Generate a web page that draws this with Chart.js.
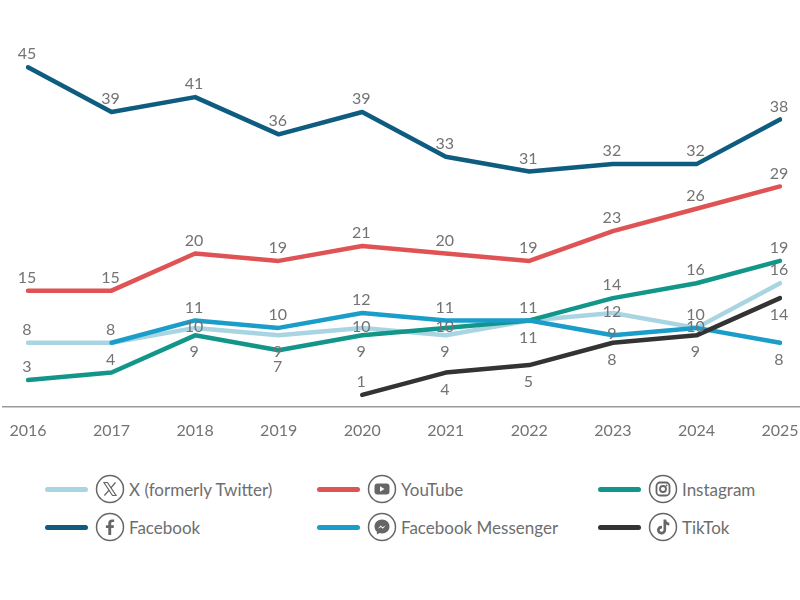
<!DOCTYPE html>
<html lang="en">
<head>
<meta charset="utf-8">
<title>Social media use 2016-2025</title>
<script src="https://cdn.jsdelivr.net/npm/chart.js@4.4.1/dist/chart.umd.min.js"></script>
<style>
  html, body { margin: 0; padding: 0; background: #fff; }
  #wrap { position: relative; width: 800px; height: 460px; }
  #legend { position: relative; width: 800px; height: 140px; font-family: Lato, "Open Sans", sans-serif; color: #6e6e6e; font-size: 17px; }
  .item { position: absolute; display: flex; align-items: center; height: 30px; }
  .swatch { width: 43px; height: 5px; border-radius: 3px; margin-right: 7px; }
  .icon { width: 30px; height: 30px; margin-right: 4px; }
</style>
</head>
<body>
<div id="wrap"><canvas id="chart-area" width="800" height="460"></canvas></div>
<div id="legend"></div>

<script>
var years = ['2016', '2017', '2018', '2019', '2020', '2021', '2022', '2023', '2024', '2025'];

var twitter   = [8, 8, 10, 9, 10, 9, 11, 12, 10, 16];
var facebook  = [45, 39, 41, 36, 39, 33, 31, 32, 32, 38];
var youtube   = [15, 15, 20, 19, 21, 20, 19, 23, 26, 29];
var instagram = [3, 4, 9, 7, 9, 10, 11, 14, 16, 19];
var messenger = [null, 8, 11, 10, 12, 11, 11, 9, 10, 8];
var tiktok    = [null, null, null, null, 1, 4, 5, 8, 9, 14];

// where each value label sits: a = above, b = below, c = on the line, n = none
var twitterPos   = ['a', 'n', 'c', 'b', 'c', 'b', 'n', 'c', 'a', 'a'];
var facebookPos  = ['a', 'a', 'a', 'a', 'a', 'a', 'a', 'a', 'a', 'a'];
var youtubePos   = ['a', 'a', 'a', 'a', 'a', 'a', 'a', 'a', 'a', 'a'];
var instagramPos = ['a', 'a', 'b', 'b', 'b', 'c', 'b', 'a', 'a', 'a'];
var messengerPos = ['n', 'a', 'a', 'a', 'a', 'a', 'a', 'c', 'c', 'b'];
var tiktokPos    = ['n', 'n', 'n', 'n', 'a', 'b', 'b', 'b', 'b', 'b'];

var icons = {
  x: '<svg class="icon" viewBox="0 0 30 30"><circle cx="15" cy="15" r="13.5" fill="none" stroke="#666" stroke-width="1.5"/><path d="M9 8.5h3.5l8.5 13h-3.5z" fill="none" stroke="#666" stroke-width="1.2"/><path d="M20.5 8.5l-4.8 5.6M14.3 15.9l-4.9 5.6" stroke="#666" stroke-width="1.3"/></svg>',
  youtube: '<svg class="icon" viewBox="0 0 30 30"><circle cx="15" cy="15" r="13.5" fill="none" stroke="#666" stroke-width="1.5"/><rect x="7.5" y="9.5" width="15" height="11" rx="3" fill="#666"/><path d="M13 12.3v5.4l4.5-2.7z" fill="#fff"/></svg>',
  instagram: '<svg class="icon" viewBox="0 0 30 30"><circle cx="15" cy="15" r="13.5" fill="none" stroke="#666" stroke-width="1.5"/><rect x="8.5" y="8.5" width="13" height="13" rx="3.5" fill="none" stroke="#666" stroke-width="1.8"/><circle cx="15" cy="15" r="3" fill="none" stroke="#666" stroke-width="1.8"/><circle cx="18.6" cy="11.4" r="0.9" fill="#666"/></svg>',
  facebook: '<svg class="icon" viewBox="0 0 30 30"><circle cx="15" cy="15" r="13.5" fill="none" stroke="#666" stroke-width="1.5"/><path d="M16.2 23v-7h2.4l0.4-2.8h-2.8v-1.7c0-0.8 0.3-1.4 1.4-1.4h1.5V7.6c-0.3 0-1.2-0.1-2.2-0.1-2.2 0-3.6 1.3-3.6 3.700v2h-2.4V16h2.4v7z" fill="#666"/></svg>',
  messenger: '<svg class="icon" viewBox="0 0 30 30"><circle cx="15" cy="15" r="13.5" fill="none" stroke="#666" stroke-width="1.5"/><path d="M15 7.5c-4.3 0-7.5 3.1-7.5 7 0 2.1 0.9 3.9 2.4 5.2v2.8l2.6-1.4c0.8 0.2 1.6 0.4 2.5 0.4 4.3 0 7.5-3.1 7.5-7s-3.2-7-7.5-7z" fill="#666"/><path d="M10.8 16.8l3-3.3 1.7 1.7 3.2-1.7-3 3.3-1.7-1.7z" fill="#fff"/></svg>',
  tiktok: '<svg class="icon" viewBox="0 0 30 30"><circle cx="15" cy="15" r="13.5" fill="none" stroke="#666" stroke-width="1.5"/><path d="M15.5 7.5h2.6c0.2 1.9 1.4 3.1 3.2 3.3v2.6c-1.2 0-2.3-0.4-3.2-1v5.3c0 2.9-2.2 4.8-4.7 4.8s-4.4-1.9-4.4-4.4 2.2-4.6 5-4.3v2.7c-1.2-0.3-2.3 0.5-2.3 1.6 0 1 0.8 1.7 1.7 1.7 1.1 0 2.1-0.7 2.1-2.1z" fill="#666"/></svg>'
};

var series = [
  { label: 'X (formerly Twitter)', data: twitter,   pos: twitterPos,   color: '#a9d5e3', icon: 'x',         lx: 45,  ly: 14 },
  { label: 'YouTube',              data: youtube,   pos: youtubePos,   color: '#e05355', icon: 'youtube',   lx: 317, ly: 14 },
  { label: 'Instagram',            data: instagram, pos: instagramPos, color: '#13968a', icon: 'instagram', lx: 598, ly: 14 },
  { label: 'Facebook',             data: facebook,  pos: facebookPos,  color: '#0e5d80', icon: 'facebook',  lx: 45,  ly: 52 },
  { label: 'Facebook Messenger',   data: messenger, pos: messengerPos, color: '#1b9dca', icon: 'messenger', lx: 317, ly: 52 },
  { label: 'TikTok',               data: tiktok,    pos: tiktokPos,    color: '#333333', icon: 'tiktok',    lx: 598, ly: 52 }
];

// draw order: light lines underneath, dark on top
var drawOrder = ['X (formerly Twitter)', 'Instagram', 'Facebook Messenger', 'TikTok', 'YouTube', 'Facebook'];

var valueLabels = {
  id: 'valueLabels',
  afterDatasetsDraw: function(chart) {
    var ctx = chart.ctx;
    ctx.save();
    ctx.font = '16px Lato, "Open Sans", sans-serif';
    ctx.fillStyle = '#737373';
    ctx.textAlign = 'center';
    ctx.textBaseline = 'middle';
    chart.data.datasets.forEach(function(ds, i) {
      var meta = chart.getDatasetMeta(i);
      meta.data.forEach(function(pt, j) {
        var v = ds.data[j];
        var p = ds.labelPos[j];
        if (v === null || p === 'n') return;
        var dy = p === 'a' ? -13 : (p === 'b' ? 17 : -1);
        ctx.fillText(String(v), pt.x - 1, pt.y + dy);
      });
    });
    ctx.restore();
  }
};

var baseLine = {
  id: 'baseLine',
  beforeDatasetsDraw: function(chart) {
    var ctx = chart.ctx;
    var y = chart.chartArea.bottom;
    ctx.save();
    ctx.strokeStyle = '#9a9a9a';
    ctx.lineWidth = 1.5;
    ctx.beginPath();
    ctx.moveTo(2, y);
    ctx.lineTo(chart.width, y);
    ctx.stroke();
    ctx.restore();
  }
};

var datasets = drawOrder.map(function(name, k) {
  var s = series.filter(function(d) { return d.label === name; })[0];
  return {
    label: s.label,
    data: s.data,
    labelPos: s.pos,
    borderColor: s.color,
    backgroundColor: s.color,
    borderWidth: 4.5,
    borderCapStyle: 'round',
    borderJoinStyle: 'round',
    pointRadius: 0,
    tension: 0,
    spanGaps: false,
    order: drawOrder.length - k
  };
});

var config = {
  type: 'line',
  data: { labels: years, datasets: datasets },
  options: {
    responsive: false,
    animation: false,
    layout: { padding: { left: 28, right: 20, top: 45, bottom: 6 } },
    plugins: { legend: { display: false }, tooltip: { enabled: false } },
    scales: {
      x: {
        offset: false,
        grid: { display: false, drawTicks: false },
        border: { display: false },
        ticks: { color: '#737373', font: { family: 'Lato, "Open Sans", sans-serif', size: 16 }, padding: 14, maxRotation: 0 },
        afterFit: function(scale) {
          // keep the end labels from pushing the plot inward
          scale.paddingLeft = 0;
          scale.paddingRight = 0;
        }
      },
      y: {
        display: false,
        min: -0.6,
        max: 48
      }
    }
  },
  plugins: [baseLine, valueLabels]
};

window.onload = function() {
  var ctx = document.getElementById('chart-area').getContext('2d');
  window.myLine = new Chart(ctx, config);

  var legend = document.getElementById('legend');
  series.forEach(function(s) {
    var el = document.createElement('div');
    el.className = 'item';
    el.style.left = s.lx + 'px';
    el.style.top = s.ly + 'px';
    el.innerHTML = '<div class="swatch" style="background:' + s.color + '"></div>' + icons[s.icon] + '<span>' + s.label + '</span>';
    legend.appendChild(el);
  });
};
</script>
</body>
</html>
